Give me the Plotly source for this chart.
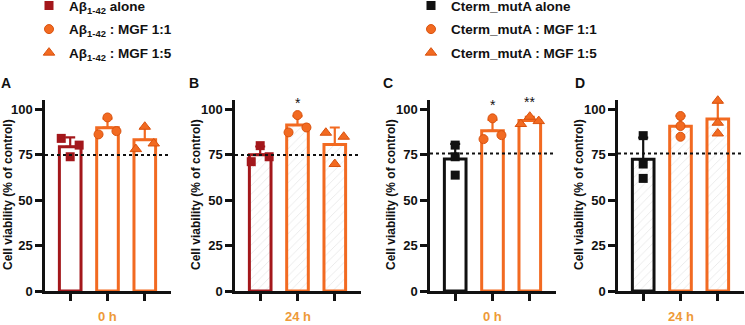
import numpy as np
import plotly.graph_objects as go

# ---------------- data ----------------
groups_left = ["Aβ<sub>1-42</sub> alone", "Aβ<sub>1-42</sub> : MGF 1:1", "Aβ<sub>1-42</sub> : MGF 1:5"]
groups_right = ["Cterm_mutA alone", "Cterm_mutA : MGF 1:1", "Cterm_mutA : MGF 1:5"]
panel_letters = ["A", "B", "C", "D"]
time_labels = ["0 h", "24 h", "0 h", "24 h"]
y_ticks = [0, 25, 50, 75, 100]

# replicate values (left, centre, right) for each of the 3 bars per panel
A_vals = [[83.9, 73.8, 80.2], [86.1, 95.4, 87.9], [78.0, 90.3, 81.1]]
B_vals = [[71.1, 79.9, 73.8], [87.2, 96.7, 89.9], [87.0, 69.8, 84.8]]
C_vals = [[80.2, 73.8, 63.7], [83.5, 94.9, 85.7], [91.8, 95.8, 93.4]]
D_vals = [[85.4, 69.8, 61.9], [96.2, 90.7, 84.8], [104.6, 92.5, 86.6]]
threshold = [74.7, 74.7, 75.6, 75.6]

# significance marks: (panel, bar, text, y)
sig_panel = [1, 2, 2, 3]
sig_bar = [1, 1, 2, 2]
sig_text = ["*", "*", "**", "*"]
sig_y = [103.5, 102.0, 104.0, 112.0]

# ---------------- style ----------------
W, H = 745, 325
DARKRED = "#A3171B"
ORANGE = "#F26A21"
ORANGE_DK = "#D9520E"
GOLD = "#EE9A38"
BLACK = "#111111"
FONT = "Liberation Sans, Arial, sans-serif"

panels = [A_vals, B_vals, C_vals, D_vals]
x_px = [(45, 171), (235, 361), (430, 556), (618, 744)]
y_px = (100, 291)
hatched = [False, True, False, True]
# point spread per bar (category units)
spread = [[0.24, 0.24, 0.24], [0.24, 0.24, 0.24], [0.0, 0.24, 0.24], [0.0, 0.0, 0.0]]
symbols = ["square", "circle", "triangle-up"]

fig = go.Figure()

for p, vals in enumerate(panels):
    ax = "" if p == 0 else str(p + 1)
    xa, ya = "x" + ax, "y" + ax
    left = p < 2
    bar_cols = [DARKRED if left else BLACK, ORANGE, ORANGE]
    means = [float(np.mean(v)) for v in vals]
    sds = [float(np.std(v, ddof=1)) for v in vals]
    for g in range(3):
        col = bar_cols[g]
        marker = dict(color="white", line=dict(color=col, width=3))
        if hatched[p]:
            marker["pattern"] = dict(shape="/", fgcolor="#C8C8C8", bgcolor="white",
                                     size=6, solidity=0.12)
        fig.add_trace(go.Bar(
            x=[g], y=[means[g]], width=0.58, marker=marker,
            error_y=dict(type="data", array=[sds[g]], arrayminus=[0], symmetric=False,
                         color=col, thickness=2.2, width=5),
            xaxis=xa, yaxis=ya, showlegend=False, hoverinfo="skip"))
    for g in range(3):
        col = bar_cols[g]
        s = spread[p][g]
        xs = [g - s, g, g + s]
        if g == 0:
            mk = dict(symbol="square", size=9, color=col, line=dict(width=0))
        else:
            mk = dict(symbol=symbols[g], size=9 if g == 1 else 10, color=ORANGE,
                      line=dict(color=ORANGE_DK, width=1))
        show = p in (0, 2)
        name = (groups_left if left else groups_right)[g]
        fig.add_trace(go.Scatter(
            x=xs, y=vals[g], mode="markers", marker=mk, name=name,
            legendgroup="p%d_g%d" % (p, g),
            xaxis=xa, yaxis=ya, showlegend=show,
            legend="legend" if left else "legend2", cliponaxis=False))

layout = dict(
    width=W, height=H, margin=dict(l=0, r=0, t=0, b=0, autoexpand=False),
    plot_bgcolor="white", paper_bgcolor="white",
    font=dict(family=FONT, color=BLACK),
)
axis_common = dict(showline=True, linecolor=BLACK, linewidth=2.5, ticks="outside",
                   ticklen=7, tickwidth=2.5, tickcolor=BLACK, showgrid=False,
                   zeroline=False)
shapes, annots = [], []
for p in range(4):
    ax = "" if p == 0 else str(p + 1)
    x0, x1 = x_px[p]
    dom_x = [x0 / W, x1 / W]
    dom_y = [(H - y_px[1]) / H, (H - y_px[0]) / H]
    layout["xaxis" + ax] = dict(axis_common, domain=dom_x, range=[-25 / 37, 2 + 26 / 37],
                                tickvals=[0, 1, 2], showticklabels=False,
                                anchor="y" + ax, fixedrange=True)
    layout["yaxis" + ax] = dict(axis_common, domain=dom_y, range=[0, 105],
                                tickvals=y_ticks, anchor="x" + ax,
                                tickfont=dict(size=13, family=FONT, color=BLACK,
                                              weight="bold"),
                                fixedrange=True)
    shapes.append(dict(type="line", xref="x" + ax + " domain", yref="y" + ax,
                       x0=0, x1=1, y0=threshold[p], y1=threshold[p],
                       line=dict(color=BLACK, width=2, dash="dot")))
    # axis title
    tx = 8 if p == 0 else x0 - 39
    annots.append(dict(text="<b>Cell viability (% of control)</b>", textangle=-90,
                       xref="paper", yref="paper", x=tx / W, y=(H - 195) / H,
                       showarrow=False, font=dict(size=12, color=BLACK),
                       xanchor="center", yanchor="middle"))
    # time label
    annots.append(dict(text="<b>%s</b>" % time_labels[p], xref="x" + ax, yref="paper",
                       x=1, y=(H - 316.5) / H, showarrow=False,
                       font=dict(size=13, color=GOLD), xanchor="center", yanchor="middle"))
    # panel letter
    lx = [6, 194, 388, 580][p]
    annots.append(dict(text="<b>%s</b>" % panel_letters[p], xref="paper", yref="paper",
                       x=lx / W, y=(H - 83) / H, showarrow=False,
                       font=dict(size=14, color=BLACK), xanchor="center", yanchor="middle"))

for pp, bb, tt, yy in zip(sig_panel, sig_bar, sig_text, sig_y):
    ax = "" if pp == 0 else str(pp + 1)
    annots.append(dict(text=tt, xref="x" + ax, yref="y" + ax, x=bb, y=yy,
                       showarrow=False, font=dict(size=14, color=BLACK),
                       xanchor="center", yanchor="middle"))

leg_font = dict(size=13.5, family=FONT, color=BLACK, weight="bold")
layout["legend"] = dict(x=29 / W, y=1.03, xanchor="left", yanchor="top",
                        font=leg_font, bgcolor="rgba(0,0,0,0)", tracegroupgap=3,
                        itemclick=False)
layout["legend2"] = dict(x=411 / W, y=1.03, xanchor="left", yanchor="top",
                         font=leg_font, bgcolor="rgba(0,0,0,0)", tracegroupgap=3,
                         itemclick=False)
layout["shapes"] = shapes
layout["annotations"] = annots
fig.update_layout(**layout)

fig.write_html("out.html")
